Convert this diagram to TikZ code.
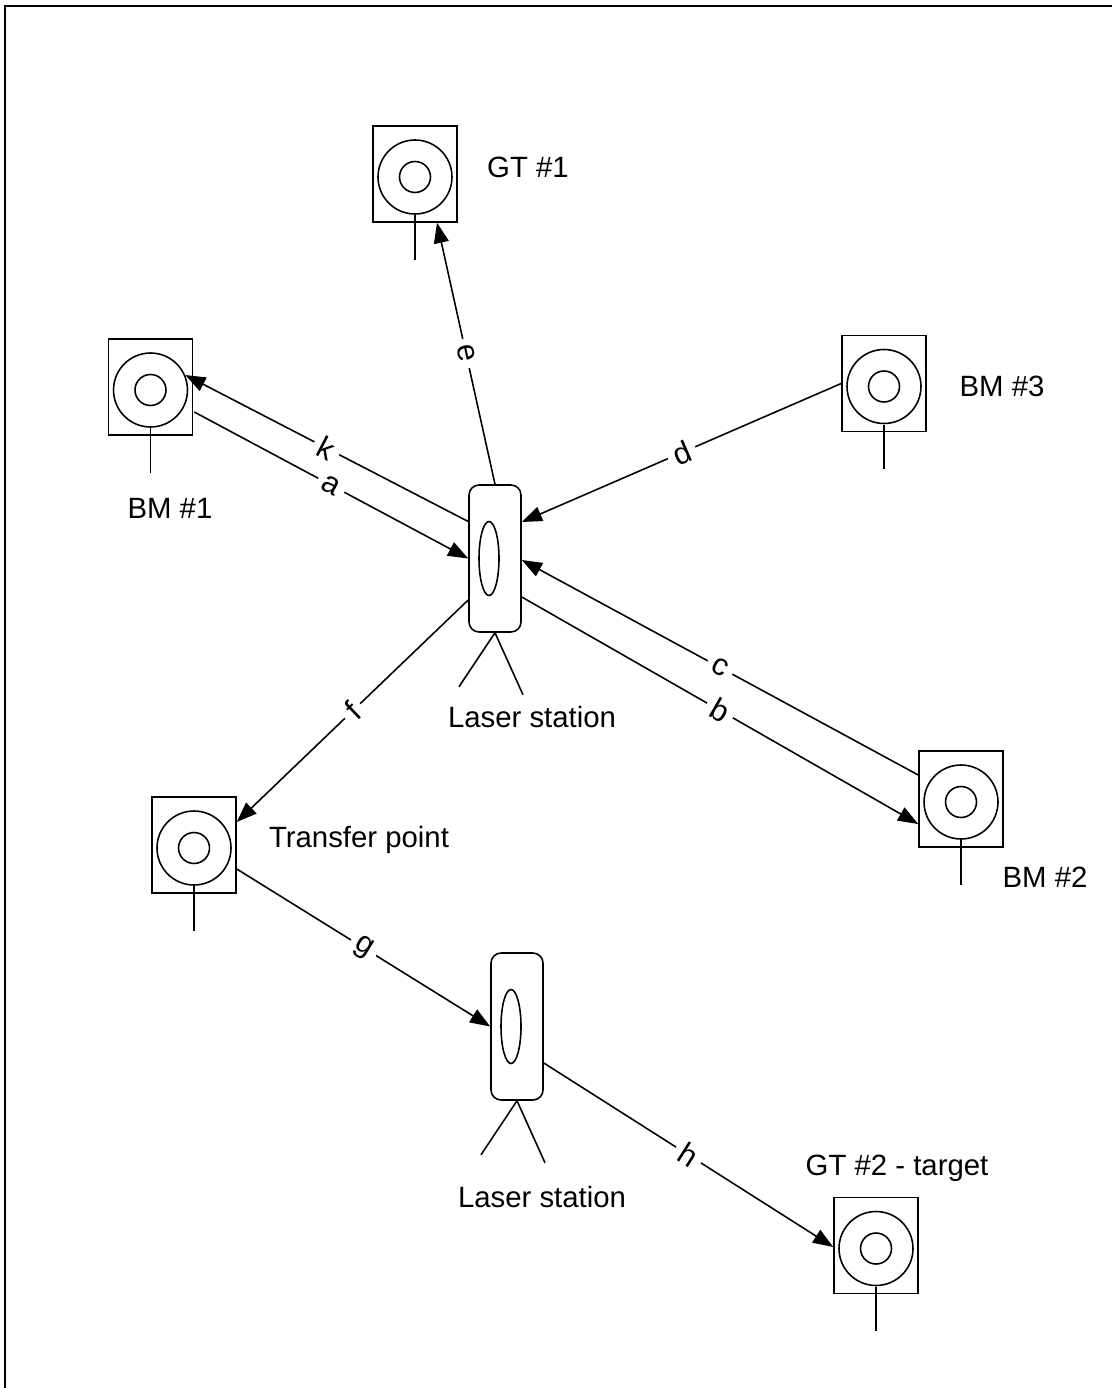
\documentclass[tikz,border=0pt]{standalone}
\usepackage{fontspec}
\setmainfont{Liberation Sans}
\usetikzlibrary{arrows.meta, calc}

\tikzset{
  targetbox/.style={draw, rectangle, minimum width=1.68cm, minimum height=1.92cm, inner sep=0pt},
  stationbox/.style={draw, rectangle, rounded corners=0.2cm, minimum width=1.04cm, minimum height=2.94cm, inner sep=0pt},
  sight/.style={-{Triangle[length=11.5pt, width=8.5pt]}},
  edgelabel/.style={midway, sloped, fill=white, inner sep=3.5pt, font=\fontsize{17.5}{19}\selectfont},
  caption/.style={font=\fontsize{16.7}{18}\selectfont, inner sep=0pt}
}

\begin{document}
\begin{tikzpicture}[x=0.02cm, y=-0.02cm, line width=0.9pt]
  \useasboundingbox (0,0) rectangle (1112,1388);
  % page frame
  \draw[line width=1.1pt] (5,1388) -- (5,6) -- (1112,6);
  % reflectors
  \foreach \name/\x/\y in {gtone/415/174, bmone/150.5/387, bmthree/884/383.5,
                           bmtwo/961/799, transfer/194/845, gttwo/876/1245.5} {
    \node[targetbox] (\name) at (\x,\y) {};
    \draw ($(\name.center)+(0,3)$) circle (0.74cm);
    \draw ($(\name.center)+(0,3)$) circle (0.31cm);
    \draw ($(\name.center)+(0,41)$) -- ($(\name.south)+(0,37)$);
  }
  % laser stations
  \foreach \name/\x/\y in {stone/495/558.5, sttwo/517/1026.5} {
    \node[stationbox] (\name) at (\x,\y) {};
    \draw ($(\name.center)+(-6,0)$) ellipse (0.2cm and 0.74cm);
    \draw (\name.south) -- ++(-36,54);
    \draw (\name.south) -- ++(28,62);
  }
  % sight lines
  \draw[sight] (stone.north) -- node[edgelabel] (le) {e} ($(gtone.south)+(22,0)$);
  \draw[sight] ($(stone.west)+(0,-37)$) -- node[edgelabel] (lk) {k} ($(bmone.east)+(-8,-12)$);
  \draw[sight] ($(bmone.east)+(1,25)$) -- node[edgelabel] (la) {a} (stone.west);
  \draw[sight] (bmthree.west) -- node[edgelabel] (ld) {d} ($(stone.east)+(0,-36.5)$);
  \draw[sight] ($(bmtwo.west)+(0,-24)$) -- node[edgelabel] (lc) {c} ($(stone.east)+(0,1.5)$);
  \draw[sight] ($(stone.east)+(0,38.5)$) -- node[edgelabel] (lb) {b} ($(bmtwo.west)+(0,25)$);
  \draw[sight] ($(stone.west)+(0,41.5)$) -- node[edgelabel] (lf) {f} ($(transfer.east)+(0,-23)$);
  \draw[sight] ($(transfer.east)+(0,24)$) -- node[edgelabel] (lg) {g} (sttwo.west);
  \draw[sight] ($(sttwo.east)+(0,36.5)$) -- node[edgelabel] (lh) {h} ($(gttwo.west)+(0,1.5)$);
  % labels
  \node[caption] (tgtone) at (528,167) {GT \#1};
  \node[caption] (tbmone) at (170,508) {BM \#1};
  \node[caption] (tbmthree) at (1002,386) {BM \#3};
  \node[caption] (tbmtwo) at (1045,877) {BM \#2};
  \node[caption] (ttransfer) at (359,840) {Transfer point};
  \node[caption] (tstone) at (532,717) {Laser station};
  \node[caption] (tsttwo) at (542,1197) {Laser station};
  \node[caption] (tgttwo) at (897,1168) {GT \#2 - target};
\end{tikzpicture}
\end{document}
